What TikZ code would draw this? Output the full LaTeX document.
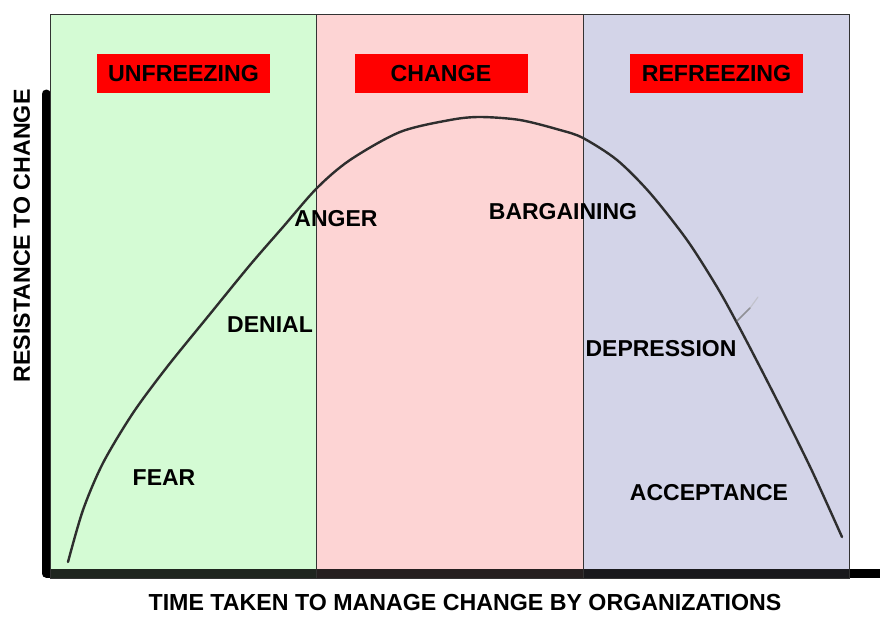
\documentclass[tikz,border=0pt]{standalone}
\usepackage{fontspec}
\setmainfont{Liberation Sans}
\definecolor{pgreen}{HTML}{D4FBD4}
\definecolor{ppink}{HTML}{FDD4D4}
\definecolor{pblue}{HTML}{D3D4E8}
\definecolor{hdrred}{HTML}{FF0000}
\definecolor{curvecol}{HTML}{2E2E2E}
\begin{document}
\begin{tikzpicture}[x=1pt,y=-1pt,
  panel/.style={draw=black!80,line width=0.9pt},
  header/.style={fill=hdrred,minimum width=173pt,minimum height=39pt,inner sep=0pt,
    font=\fontsize{23.2}{27}\selectfont\bfseries},
  stage/.style={inner sep=0pt,font=\fontsize{23}{27}\selectfont\bfseries},
  axislabel/.style={inner sep=0pt,font=\fontsize{23.2}{27}\selectfont\bfseries}]
\useasboundingbox (0,0) rectangle (880,616);
% panels
\fill[pgreen] (50,14) rectangle (316,578);
\fill[ppink] (316,14) rectangle (583,578);
\fill[pblue] (583,14) rectangle (849,578);
% axes
\draw[line width=9pt,line cap=round,line join=round] (46,94) -- (46,573) -- (890,573);
% tint over axis bar within panels
\fill[pgreen,opacity=0.15] (50,568) rectangle (316,578);
\fill[ppink,opacity=0.15] (316,568) rectangle (583,578);
\fill[pblue,opacity=0.12] (583,568) rectangle (849,578);
% panel borders
\draw[panel] (50,14) rectangle (316,578);
\draw[panel] (316,14) rectangle (583,578);
\draw[panel] (583,14) rectangle (849,578);
% curve
\draw[curvecol,line width=2.4pt,line cap=round] plot[smooth,tension=0.5] coordinates {
  (68,562) (83,510) (103,463) (133,413) (167,367) (210,314) (250,265) (283,227)
  (317,188) (350,160) (400,132) (450,120) (480,117) (520,120) (560,130) (583,138)
  (617,160) (650,193) (687,240) (717,287) (737,323) (760,367) (787,420) (813,473) (842,537)};
\draw[black!55,line width=1.5pt,opacity=0.7,line cap=round] (737,321) -- (750,308);
\draw[black!30,line width=1.2pt,opacity=0.5,line cap=round] (750,308) -- (758,297);
% headers
\node[header] (unf) at (183.5,73.5) {UNFREEZING};
\node[header] (chg) at (441,73.5) {CHANGE};
\node[header] (ref) at (716.5,73.5) {REFREEZING};
% stage labels
\node[stage] (anger) at (336,219) {ANGER};
\node[stage] (barg) at (563,212) {BARGAINING};
\node[stage] (denial) at (270,325) {DENIAL};
\node[stage] (depr) at (661,349) {DEPRESSION};
\node[stage] (fear) at (164,478) {FEAR};
\node[stage] (acc) at (709,493) {ACCEPTANCE};
% axis labels
\node[axislabel,rotate=90] (ylab) at (22,236) {RESISTANCE TO CHANGE};
\node[axislabel] (xlab) at (465,603) {TIME TAKEN TO MANAGE CHANGE BY ORGANIZATIONS};
\end{tikzpicture}
\end{document}
